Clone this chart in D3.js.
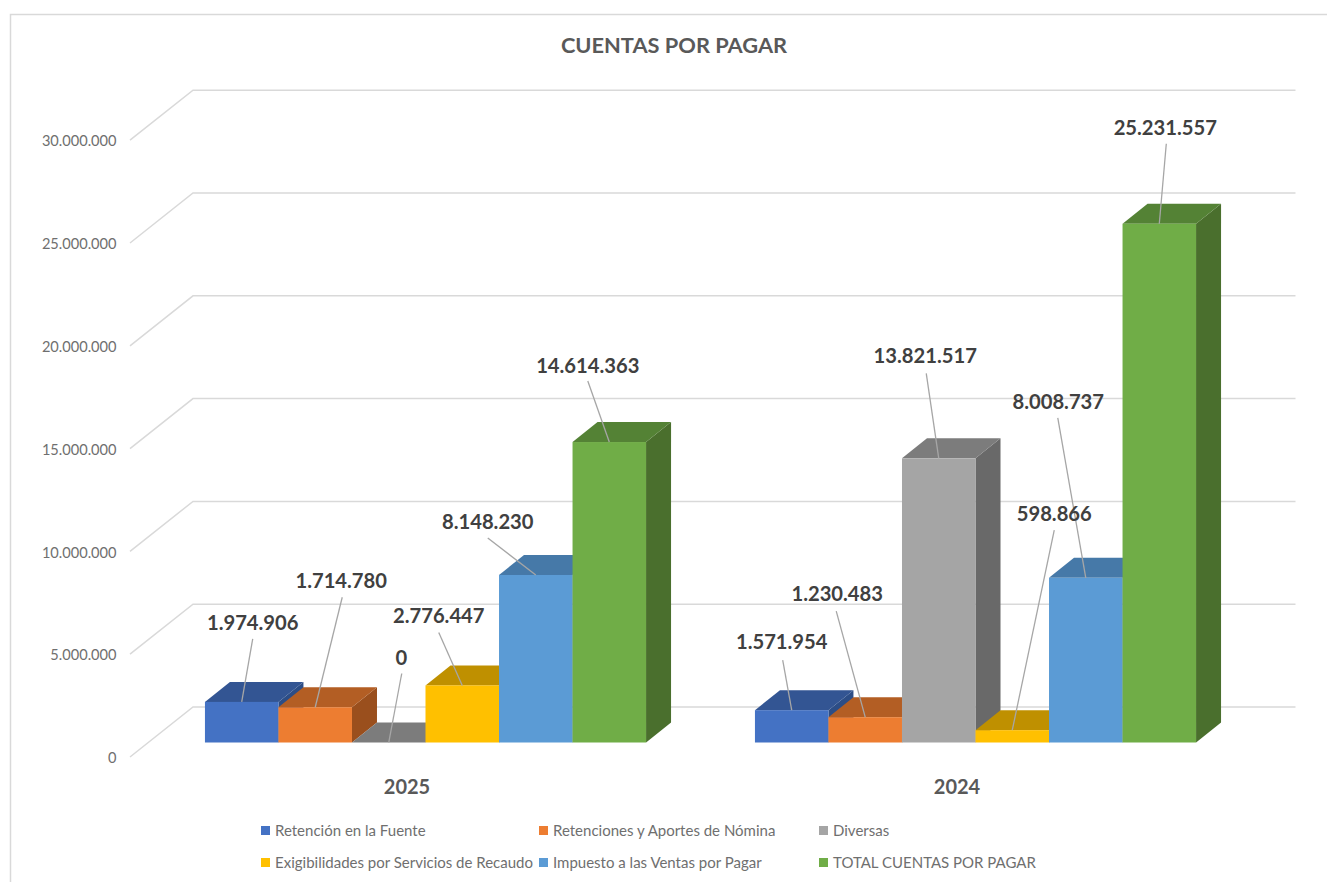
<!DOCTYPE html>
<html>
<head>
<meta charset="UTF-8">
<title>Cuentas por pagar</title>
<script src="https://d3js.org/d3.v7.min.js"></script>
<style>
	html, body { margin: 0; padding: 0; background: #fff; overflow: hidden; }
	text { font-family: Lato, "Open Sans", sans-serif; }
</style>
</head>
<body>
<div id="chart"></div>
<script>
	// data
	const years = ["2025", "2024"];
	const seriesNames = ["Retención en la Fuente", "Retenciones y Aportes de Nómina", "Diversas",
		"Exigibilidades por Servicios de Recaudo", "Impuesto a las Ventas por Pagar", "TOTAL CUENTAS POR PAGAR"];
	const values2025 = [1974906, 1714780, 0, 2776447, 8148230, 14614363];
	const values2024 = [1571954, 1230483, 13821517, 598866, 8008737, 25231557];
	const yTicks = [0, 5000000, 10000000, 15000000, 20000000, 25000000, 30000000];

	// colors: front, top, side
	const frontColors = ["#4472c4", "#ed7d31", "#a5a5a5", "#ffc000", "#5b9bd5", "#70ad47"];
	const topColors = ["#335593", "#b35e24", "#7c7c7c", "#bf9000", "#4679a8", "#548235"];
	const sideColors = ["#2c4d86", "#9a4f1d", "#696969", "#a67c00", "#3d6d99", "#4a6f2d"];

	// label centre and leader start, relative to the top centre of the bar front
	const labelOffsets2025 = [[11, -79, 11, -63], [26, -126, 27, -110], [12.5, -85, 13, -69], [-23.5, -69, -23.5, -53], [-48, -52.5, -48, -37], [-21.5, -76.5, -21.5, -61]];
	const labelOffsets2024 = [[-10, -68, -9, -50], [-28, -123, -29, -106], [-13.5, -102, -12.5, -85], [42, -216, 42, -200], [-27.5, -176, -28, -160], [6, -96, 7, -80]];

	const width = 1327, height = 882;
	const depthX = 25, depthY = -20; // bar depth
	const baseY = 742.5;

	const svg = d3.select("#chart").append("svg")
		.attr("width", width)
		.attr("height", height)
		.style("display", "block");

	const y = d3.scaleLinear().domain([0, 30000000]).range([baseY, baseY - 616.8]);
	const x0 = d3.scaleBand().domain(years).range([150.5, 1250.5]).paddingInner(0.198).paddingOuter(0.099);
	const x1 = d3.scaleBand().domain(seriesNames).range([0, x0.bandwidth()]);
	const fmt = d3.formatLocale({ decimal: ",", thousands: ".", grouping: [3], currency: ["", ""] }).format(",d");

	// chart border
	svg.append("path")
		.attr("d", "M10.5,882V14.5H1327")
		.attr("fill", "none")
		.attr("stroke", "#d9d9d9")
		.attr("stroke-width", 1.5);

	svg.append("text")
		.attr("x", 674)
		.attr("y", 53)
		.attr("text-anchor", "middle")
		.attr("font-size", 21.8)
		.attr("font-weight", 700)
		.attr("fill", "#595959")
		.text("CUENTAS POR PAGAR");

	// gridlines: floor/side wall part then back wall
	svg.selectAll(".grid")
		.data(yTicks)
		.join("path")
		.attr("class", "grid")
		.attr("d", d => `M130,${y(d) + 14.5}L193,${y(d) - 35.5}H1295.5`)
		.attr("fill", "none")
		.attr("stroke", "#d9d9d9")
		.attr("stroke-width", 1.5);

	// y axis labels
	const axis = d3.axisLeft(y).tickValues(yTicks).tickFormat(fmt).tickSize(0);
	const axisG = svg.append("g")
		.attr("transform", "translate(116.5,15.5)")
		.call(axis);
	axisG.select(".domain").remove();
	axisG.selectAll("text")
		.attr("x", 0)
		.attr("font-size", 14.6)
		.attr("fill", "#6f6f6f");

	// bars
	const bars = [];
	years.forEach((yr, k) => {
		const vals = k === 0 ? values2025 : values2024;
		const offs = k === 0 ? labelOffsets2025 : labelOffsets2024;
		seriesNames.forEach((s, i) => bars.push({ year: yr, series: s, i: i, value: vals[i], off: offs[i] }));
	});
	const bw = x1.bandwidth();
	const barX = d => x0(d.year) + x1(d.series);

	const barG = svg.selectAll(".bar")
		.data(bars)
		.join("g")
		.attr("class", "bar");

	// side face
	barG.filter(d => d.value > 0).append("path")
		.attr("d", d => {
			const r = barX(d) + bw, t = y(d.value);
			return `M${r},${t}l${depthX},${depthY}V${baseY + depthY}L${r},${baseY}Z`;
		})
		.attr("fill", d => sideColors[d.i]);
	// top face
	barG.append("path")
		.attr("d", d => {
			const l = barX(d), t = y(d.value);
			return `M${l},${t}l${depthX},${depthY}h${bw}l${-depthX},${-depthY}Z`;
		})
		.attr("fill", d => topColors[d.i]);
	// front face
	barG.filter(d => d.value > 0).append("rect")
		.attr("x", barX)
		.attr("y", d => y(d.value))
		.attr("width", bw)
		.attr("height", d => baseY - y(d.value))
		.attr("fill", d => frontColors[d.i]);

	// leaders
	svg.selectAll(".leader")
		.data(bars)
		.join("line")
		.attr("class", "leader")
		.attr("x1", d => barX(d) + bw / 2)
		.attr("y1", d => y(d.value))
		.attr("x2", d => barX(d) + bw / 2 + d.off[2])
		.attr("y2", d => y(d.value) + d.off[3])
		.attr("stroke", "#a6a6a6")
		.attr("stroke-width", 1.3);

	// value labels
	svg.selectAll(".value")
		.data(bars)
		.join("text")
		.attr("class", "value")
		.attr("x", d => barX(d) + bw / 2 + d.off[0])
		.attr("y", d => y(d.value) + d.off[1] + 7)
		.attr("text-anchor", "middle")
		.attr("font-size", 20.2)
		.attr("font-weight", 700)
		.attr("fill", "#404040")
		.text(d => fmt(d.value));

	// category labels
	svg.selectAll(".cat")
		.data(years)
		.join("text")
		.attr("class", "cat")
		.attr("x", d => x0(d) + x0.bandwidth() / 2 - 18.5)
		.attr("y", 794)
		.attr("text-anchor", "middle")
		.attr("font-size", 20)
		.attr("font-weight", 700)
		.attr("fill", "#595959")
		.text(d => d);

	// legend
	const legendX = [261, 539, 819];
	const legendY = [831, 863];
	const legend = svg.selectAll(".legend")
		.data(seriesNames)
		.join("g")
		.attr("class", "legend")
		.attr("transform", (d, i) => `translate(${legendX[i % 3]},${legendY[Math.floor(i / 3)]})`);
	legend.append("rect")
		.attr("y", -5)
		.attr("width", 9)
		.attr("height", 9)
		.attr("fill", (d, i) => frontColors[i]);
	legend.append("text")
		.attr("x", 14)
		.attr("y", 5)
		.attr("font-size", 15)
		.attr("fill", "#6f6f6f")
		.text(d => d);
</script>
</body>
</html>
